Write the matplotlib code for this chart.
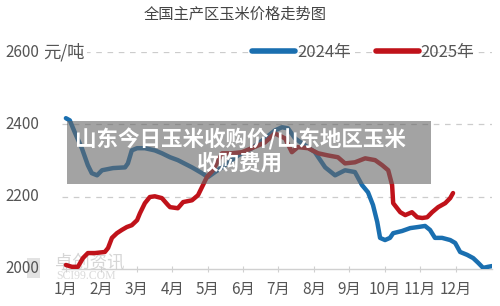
import numpy as np
import matplotlib
matplotlib.use('Agg')
from matplotlib import pyplot as plt
from matplotlib import patches
from matplotlib.transforms import blended_transform_factory

plt.rcParams['font.family'] = ['Noto Sans CJK SC', 'DejaVu Sans']

## month position (0 = start of Jan) and price
x_2024 = [0.0, 0.11, 0.25, 0.45, 0.62, 0.73, 0.88, 1.02, 1.33, 1.67, 1.75, 1.86, 2.01, 2.23,
          2.51, 2.71, 2.94, 3.16, 3.56, 3.84, 4.01, 4.21, 4.49, 4.86, 5.25, 5.62, 5.90, 6.10,
          6.27, 6.47, 6.75, 7.03, 7.32, 7.60, 7.88, 8.16, 8.36, 8.53, 8.67, 8.79, 8.87, 9.01,
          9.15, 9.24, 9.49, 9.72, 9.94, 10.14, 10.28, 10.42, 10.62, 10.85, 10.99, 11.13, 11.33,
          11.50, 11.64, 11.78, 11.92, 12.03]
p_2024 = [2417, 2411, 2378, 2334, 2287, 2265, 2259, 2273, 2279, 2281, 2292, 2328, 2334, 2334,
          2328, 2320, 2309, 2301, 2281, 2265, 2254, 2268, 2287, 2314, 2334, 2361, 2383, 2392,
          2389, 2361, 2342, 2323, 2281, 2259, 2273, 2268, 2232, 2212, 2177, 2130, 2086, 2080,
          2086, 2099, 2105, 2113, 2116, 2119, 2108, 2086, 2086, 2080, 2072, 2047, 2039,
          2030, 2017, 2003, 2006, 2008]

x_2025 = [0.0, 0.17, 0.34, 0.48, 0.62, 0.82, 1.10, 1.19, 1.30, 1.44, 1.58, 1.72, 1.86, 2.01,
          2.09, 2.23, 2.37, 2.51, 2.71, 2.88, 2.94, 3.16, 3.31, 3.56, 3.73, 3.84, 3.98, 4.15,
          4.41, 4.69, 4.97, 5.25, 5.62, 5.90, 6.19, 6.38, 6.55, 6.84, 7.12, 7.40, 7.68, 7.88,
          8.16, 8.45, 8.73, 8.93, 9.10, 9.21, 9.24, 9.44, 9.58, 9.77, 9.92, 10.06, 10.20,
          10.34, 10.51, 10.71, 10.85, 10.93]
p_2025 = [2011, 2006, 2006, 2030, 2044, 2044, 2047, 2058, 2086, 2099, 2108, 2116, 2121, 2135,
          2154, 2182, 2199, 2201, 2196, 2177, 2171, 2168, 2185, 2190, 2204, 2226, 2254, 2273,
          2320, 2320, 2323, 2334, 2350, 2375, 2361, 2323, 2337, 2334, 2320, 2314, 2309, 2292,
          2295, 2306, 2301, 2287, 2273, 2232, 2182, 2157, 2149, 2157, 2143, 2141, 2143,
          2157, 2171, 2182, 2196, 2210]

months = ['1月', '2月', '3月', '4月', '5月', '6月', '7月', '8月', '9月', '10月', '11月', '12月']
y_ticks = [2000, 2200, 2400, 2600]
y_unit = '元/吨'

title = '全国主产区玉米价格走势图'
overlay_text = '山东今日玉米收购价/山东地区玉米\n收购费用'

fig = plt.figure(figsize=(5, 3.06), dpi=100)

# faint watermark (behind everything)
fig.patches.append(patches.Rectangle((27 / 500, 1 - 278 / 306), 13 / 500, 20 / 306,
                                     transform=fig.transFigure, facecolor='#e2e2e2',
                                     edgecolor='none', zorder=-5))
fig.text(55 / 500, 1 - 262 / 306, '卓创资讯', fontsize=12.5, color='#d6d6d6',
         va='center', ha='left', zorder=-4)
fig.text(56 / 500, 1 - 276 / 306, 'SCI99.COM', fontsize=8.5, color='#dadada',
         va='center', ha='left', family='Liberation Serif', zorder=-4)

ax = fig.add_axes([0.124, 0.121, 0.86, 0.709])
ax.patch.set_alpha(0)

ax.plot(x_2024, p_2024, color='#1a6fb0', lw=3.2, solid_joinstyle='round',
        solid_capstyle='round', label='2024年', zorder=3)
ax.plot(x_2025, p_2025, color='#c0121a', lw=3.2, solid_joinstyle='round',
        solid_capstyle='round', label='2025年', zorder=3)

ax.set_xlim(-0.11, 12.03)
ax.set_ylim(2000, 2600)
for v in y_ticks[1:]:
    ax.axhline(v, color='#cccccc', lw=0.9, ls=(0, (4.5, 4.5)), zorder=1)

for s in ['top', 'right', 'left']:
    ax.spines[s].set_visible(False)
ax.spines['bottom'].set_color('#d0d0d0')
ax.spines['bottom'].set_linewidth(1.0)

ax.set_xticks(range(12))
ax.set_xticklabels(months, fontsize=11, color='#555555')
ax.tick_params(axis='x', direction='inout', length=5, color='#d0d0d0', pad=6)
ax.set_yticks([])

trans = blended_transform_factory(fig.transFigure, ax.transData)
for v in y_ticks:
    ax.text(5 / 500, v, str(v), transform=trans, ha='left', va='center', fontsize=11,
            color='#555555', clip_on=False, zorder=4)
ax.text(43 / 500, y_ticks[-1], y_unit, transform=trans, ha='left', va='center',
        fontsize=12.5, color='#555555', clip_on=False, zorder=4,
        bbox=dict(facecolor='white', edgecolor='none', pad=1.5))

fig.text(0.47, 1 - 14 / 306, title, ha='center', va='center', fontsize=11, color='#444444')

leg = ax.legend(loc='center left', bbox_to_anchor=(0.504, 1 - 52 / 306),
                bbox_transform=fig.transFigure, ncol=2, frameon=False, fontsize=12,
                handlelength=2.6, handletextpad=0.1, columnspacing=1.5,
                borderpad=0, borderaxespad=0)
for t in leg.get_texts():
    t.set_color('#555555')
for h in leg.get_lines():
    h.set_linewidth(4)

# gray caption box over the chart
fig.patches.append(patches.Rectangle((0.134, 1 - 184 / 306), 0.728, 63 / 306,
                                     transform=fig.transFigure, facecolor='#666666',
                                     alpha=0.6, edgecolor='none', zorder=5))
fig.text(0.48, 1 - 151 / 306, overlay_text, ha='center', va='center', fontsize=15.5,
         color='white', fontweight='bold', linespacing=1.1, zorder=6)

fig.savefig('out.png', dpi=100)
